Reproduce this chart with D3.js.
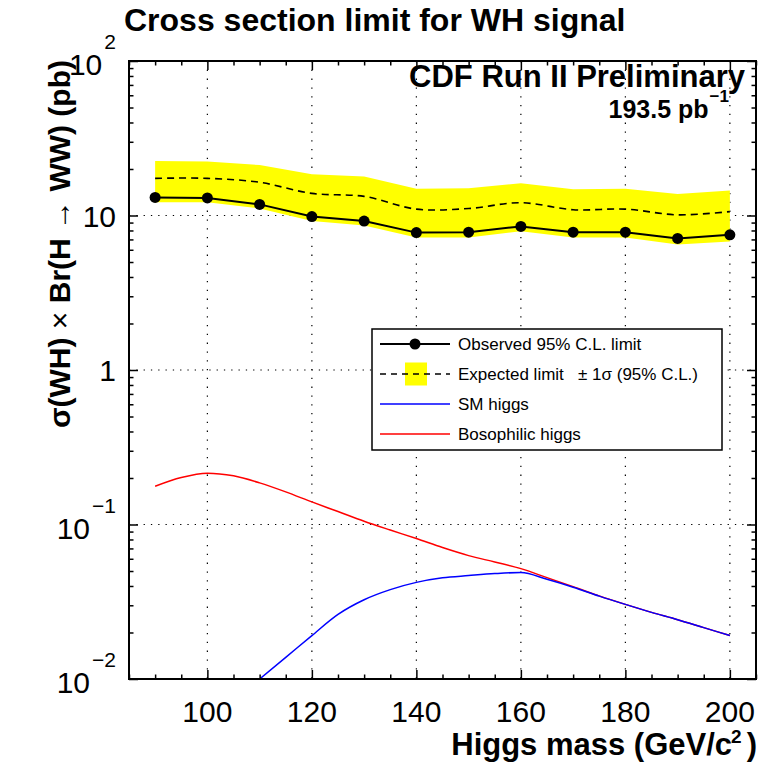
<!DOCTYPE html>
<html><head><meta charset="utf-8">
<script src="https://cdn.jsdelivr.net/npm/d3@7"></script>
<style>
body{margin:0;background:#fff}
svg text{font-family:"Liberation Sans",Arial,Helvetica,sans-serif;fill:#000}
</style>
</head><body>
<svg id="c" width="767" height="767"></svg>
<script>
// ---------------- data ----------------
const masses     = [90,100,110,120,130,140,150,160,170,180,190,200];
const observed   = [13.1,13.0,11.8,9.85,9.2,7.75,7.8,8.5,7.8,7.8,7.1,7.5];
const expected   = [17.4,17.4,16.4,13.9,13.3,11.0,11.1,12.1,10.9,11.0,10.1,10.6];
const bandHigh   = [22.5,22.4,21.2,18.5,17.9,14.9,15.0,16.2,14.8,14.9,13.8,14.5];
const bandLow    = [12.2,12.2,11.1,9.2,8.6,7.2,7.2,7.9,7.2,7.2,6.5,6.8];

const smMass     = [110,115,120,125,130,135,140,145,150,155,160,165,170,175,180,185,190,195,200];
const smXsec     = [0.0100,0.0138,0.0191,0.0262,0.0326,0.0379,0.0422,0.0452,0.0467,0.0481,0.0489,0.0442,0.0393,0.0344,0.0304,0.0270,0.0242,0.0215,0.0191];

const bosoMass   = [90,95,100,105,110,115,120,125,130,135,140,145,150,155,160,165,170,175,180,185,190,195,200];
const bosoXsec   = [0.177,0.2015,0.215,0.2065,0.186,0.1626,0.140,0.1213,0.105,0.0921,0.0811,0.0709,0.0629,0.0572,0.0518,0.0453,0.0396,0.0345,0.0304,0.0270,0.0242,0.0215,0.0191];

const xTickValues = [100,120,140,160,180,200];
const yTickValues = [0.01,0.1,1,10,100];
const yTickBase   = ["10","10","1","10","10"];
const yTickSup    = ["\u22122","\u22121","","","2"];
const legendLabels = ["Observed 95% C.L. limit","Expected limit","SM higgs","Bosophilic higgs"];

// ---------------- layout ----------------
const L = 129, R = 756, T = 61, B = 679;
const svg = d3.select("#c");
const x = d3.scaleLinear().domain([85,205]).range([L,R]);
const y = d3.scaleLog().domain([0.01,100]).range([B,T]);

svg.append("defs").append("clipPath").attr("id","clip")
  .append("rect").attr("x",L).attr("y",T).attr("width",R-L).attr("height",B-T);

// grid
const grid = svg.append("g").attr("stroke","#000").attr("stroke-width",1.2);
grid.selectAll("line.v").data(xTickValues).join("line")
  .attr("x1",d=>x(d)).attr("x2",d=>x(d)).attr("y1",T).attr("y2",B)
  .attr("stroke-dasharray","1.3,7.5");
grid.selectAll("line.h").data([0.1,1,10]).join("line")
  .attr("y1",d=>y(d)).attr("y2",d=>y(d)).attr("x1",L).attr("x2",R)
  .attr("stroke-dasharray","1.3,6");

const plot = svg.append("g").attr("clip-path","url(#clip)");

// yellow band
const bandArea = d3.area().x((d,i)=>x(masses[i])).y0((d,i)=>y(bandLow[i])).y1((d,i)=>y(bandHigh[i]));
plot.append("path").datum(masses).attr("d",bandArea).attr("fill","#ffff00");

// expected dashed line
plot.append("path").datum(masses)
  .attr("d",d3.line().x((d,i)=>x(masses[i])).y((d,i)=>y(expected[i])).curve(d3.curveCatmullRom))
  .attr("fill","none").attr("stroke","#000").attr("stroke-width",1.6).attr("stroke-dasharray","7,5");

// bosophilic (red) and SM (blue)
plot.append("path").datum(bosoMass)
  .attr("d",d3.line().x((d,i)=>x(bosoMass[i])).y((d,i)=>y(bosoXsec[i])).curve(d3.curveMonotoneX))
  .attr("fill","none").attr("stroke","#ff0000").attr("stroke-width",1.5);
plot.append("path").datum(smMass)
  .attr("d",d3.line().x((d,i)=>x(smMass[i])).y((d,i)=>y(smXsec[i])).curve(d3.curveMonotoneX))
  .attr("fill","none").attr("stroke","#0000ff").attr("stroke-width",1.5);

// observed
plot.append("path").datum(masses)
  .attr("d",d3.line().x((d,i)=>x(masses[i])).y((d,i)=>y(observed[i])))
  .attr("fill","none").attr("stroke","#000").attr("stroke-width",2);
plot.selectAll("circle.obs").data(masses).join("circle")
  .attr("cx",(d,i)=>x(masses[i])).attr("cy",(d,i)=>y(observed[i])).attr("r",5.5).attr("fill","#000");

// axes (ticks inside)
const xMinor = d3.range(85,206,5).filter(v=>!xTickValues.includes(v));
const yMinor = [];
[0.01,0.1,1,10].forEach(dec=>{for(let k=2;k<=9;k++) yMinor.push(dec*k);});
function ax(gen, vals, size, tr){
  const g = svg.append("g").attr("transform",tr).call(gen.tickValues(vals).tickSize(size).tickFormat(""));
  g.select(".domain").remove();
  g.selectAll(".tick line").attr("stroke","#000").attr("stroke-width",1.5);
}
ax(d3.axisBottom(x), xTickValues, -9, `translate(0,${B})`);
ax(d3.axisBottom(x), xMinor, -4.5, `translate(0,${B})`);
ax(d3.axisTop(x), xTickValues, -9, `translate(0,${T})`);
ax(d3.axisTop(x), xMinor, -4.5, `translate(0,${T})`);
ax(d3.axisLeft(y), yTickValues, -9, `translate(${L},0)`);
ax(d3.axisLeft(y), yMinor, -4.5, `translate(${L},0)`);
ax(d3.axisRight(y), yTickValues, -9, `translate(${R},0)`);
ax(d3.axisRight(y), yMinor, -4.5, `translate(${R},0)`);

// frame
svg.append("rect").attr("x",L).attr("y",T).attr("width",R-L).attr("height",B-T)
  .attr("fill","none").attr("stroke","#000").attr("stroke-width",2);

// x tick labels
svg.selectAll("text.xl").data(xTickValues).join("text")
  .attr("x",d=>x(d)).attr("y",722).attr("text-anchor","middle")
  .attr("font-size",30).text(d=>d);

// y tick labels
yTickValues.forEach((v,i)=>{
  const t = svg.append("text").attr("x",116).attr("text-anchor","end").attr("font-size",30);
  if(yTickSup[i]===""){
    t.attr("y",y(v)+11).text(yTickBase[i]);
  } else {
    t.attr("y",y(v)+14);
    t.append("tspan").text(yTickBase[i]);
    t.append("tspan").attr("font-size",21).attr("dy",-26).attr("dx",2).text(yTickSup[i]);
  }
});

// title
svg.append("text").attr("x",124).attr("y",31).attr("font-size",32).attr("font-weight","bold")
  .text("Cross section limit for WH signal");

// CDF label
svg.append("text").attr("x",745).attr("y",87).attr("text-anchor","end").attr("font-size",31).attr("font-weight","bold")
  .text("CDF Run II Preliminary");
const lum = svg.append("text").attr("x",729).attr("y",118).attr("text-anchor","end").attr("font-size",25).attr("font-weight","bold");
lum.append("tspan").text("193.5 pb");
lum.append("tspan").attr("font-size",17).attr("dy",-16).attr("dx",1).text("\u22121");

// x axis title
const xt = svg.append("text").attr("x",757).attr("y",755).attr("text-anchor","end").attr("font-size",31).attr("font-weight","bold");
xt.append("tspan").text("Higgs mass (GeV/c");
xt.append("tspan").attr("font-size",19).attr("dy",-12).attr("dx",-1).text("2");
xt.append("tspan").attr("dy",12).attr("dx",5).text(")");

// y axis title
const yt = svg.append("text").attr("transform","translate(70,60) rotate(-90)")
  .attr("text-anchor","end").attr("font-size",30).attr("font-weight","bold");
yt.append("tspan").text("\u03c3(WH) ");
yt.append("tspan").attr("font-weight","normal").text("\u00d7");
yt.append("tspan").text(" Br(H ");
yt.append("tspan").attr("font-weight","normal").text("\u2192");
yt.append("tspan").text(" WW) (pb)");

// legend
const lg = svg.append("g");
lg.append("rect").attr("x",372).attr("y",329).attr("width",350).attr("height",121)
  .attr("fill","#fff").attr("stroke","#000").attr("stroke-width",1.5);
const rowY = i => 344 + i*30;
// row 0 observed
lg.append("line").attr("x1",380).attr("x2",450).attr("y1",rowY(0)).attr("y2",rowY(0)).attr("stroke","#000").attr("stroke-width",2);
lg.append("circle").attr("cx",415).attr("cy",rowY(0)).attr("r",5.5).attr("fill","#000");
// row 1 expected
lg.append("rect").attr("x",405).attr("y",rowY(1)-11.5).attr("width",22).attr("height",23).attr("fill","#ffff00");
lg.append("line").attr("x1",380).attr("x2",450).attr("y1",rowY(1)).attr("y2",rowY(1)).attr("stroke","#000").attr("stroke-width",1.6).attr("stroke-dasharray","6,5");
// row 2 SM
lg.append("line").attr("x1",380).attr("x2",450).attr("y1",rowY(2)).attr("y2",rowY(2)).attr("stroke","#0000ff").attr("stroke-width",1.5);
// row 3 boso
lg.append("line").attr("x1",380).attr("x2",450).attr("y1",rowY(3)).attr("y2",rowY(3)).attr("stroke","#ff0000").attr("stroke-width",1.5);
legendLabels.forEach((s,i)=>{
  lg.append("text").attr("x",458).attr("y",rowY(i)+6).attr("font-size",17).text(s);
});
lg.append("text").attr("x",578).attr("y",rowY(1)+6).attr("font-size",17).text("\u00b1 1\u03c3 (95% C.L.)");
</script>
</body></html>
